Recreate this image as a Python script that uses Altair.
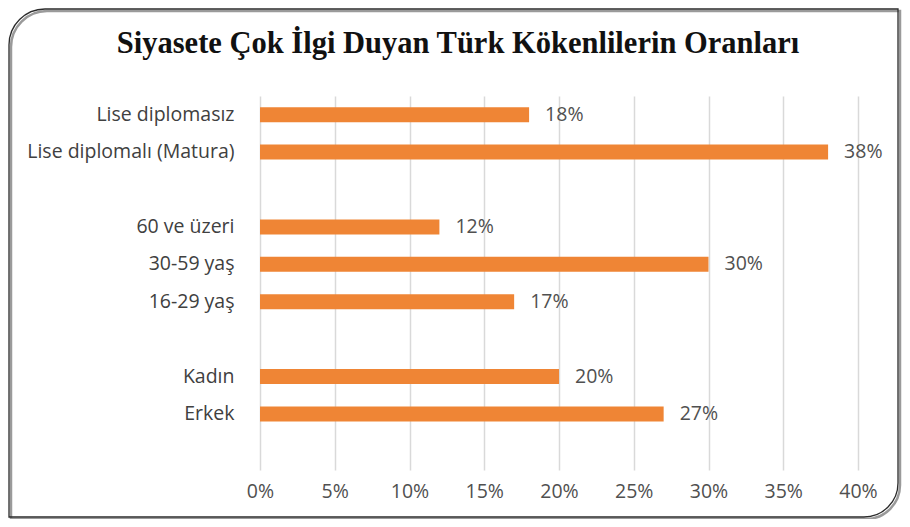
import altair as alt
import pandas as pd

categories = ["Lise diplomasız", "Lise diplomalı (Matura)", "60 ve üzeri",
              "30-59 yaş", "16-29 yaş", "Kadın", "Erkek"]
values = [18, 38, 12, 30, 17, 20, 27]
y_order = ["Lise diplomasız", "Lise diplomalı (Matura)", " ",
           "60 ve üzeri", "30-59 yaş", "16-29 yaş", "  ",
           "Kadın", "Erkek", "   "]
x_ticks = [0, 5, 10, 15, 20, 25, 30, 35, 40]
title_text = "Siyasete Çok İlgi Duyan Türk Kökenlilerin Oranları"

df = pd.DataFrame({"cat": categories, "val": values,
                   "lbl": [f"{v}%" for v in values]})

W, H = 598, 374
ORANGE = "#EF8535"
FONT = "Open Sans"
FS = 19.5

frame_shadow = alt.Chart(alt.Data(values=[{}])).mark_rect(
    fill="transparent", stroke="#9a9a9a", strokeWidth=2.5,
    cornerRadiusTopLeft=36, cornerRadiusBottomRight=34
).encode(x=alt.value(-249), x2=alt.value(640), y=alt.value(-85), y2=alt.value(423))

frame = alt.Chart(alt.Data(values=[{}])).mark_rect(
    fill="transparent", stroke="#2b2b2b", strokeWidth=1.3,
    cornerRadiusTopLeft=36, cornerRadiusBottomRight=34
).encode(x=alt.value(-251), x2=alt.value(638), y=alt.value(-87), y2=alt.value(421))

title = alt.Chart(alt.Data(values=[{"t": title_text}])).mark_text(
    font="Liberation Serif", fontSize=30.5, fontWeight="bold", color="#111111",
    align="center", baseline="middle"
).encode(x=alt.value(198), y=alt.value(-52), text="t:N")

base = alt.Chart(df)

y_enc = alt.Y("cat:N", sort=y_order,
              scale=alt.Scale(domain=y_order, paddingInner=0.6, paddingOuter=0.3),
              axis=alt.Axis(title=None, ticks=False, domain=False, labelPadding=26,
                            labelFont=FONT, labelFontSize=FS, labelColor="#404040",
                            labelLimit=300))

bars = base.mark_bar(color=ORANGE).encode(
    x=alt.X("val:Q", scale=alt.Scale(domain=[0, 40], nice=False),
            axis=alt.Axis(values=x_ticks, labelExpr="datum.value + '%'", title=None,
                          ticks=False, domain=False, grid=True, gridColor="#d9d9d9",
                          gridWidth=1.5, labelPadding=12, labelFont=FONT,
                          labelFlush=False,
                          labelFontSize=FS, labelColor="#505050")),
    y=y_enc,
)

labels = base.mark_text(align="left", baseline="middle", dx=16, font=FONT,
                        fontSize=FS, color="#505050").encode(
    x="val:Q", y=alt.Y("cat:N", sort=y_order), text="lbl:N")

chart = alt.layer(frame_shadow, frame, title, bars, labels).properties(
    width=W, height=H,
    padding={"left": 252, "top": 88, "right": 44, "bottom": 49},
    autosize=alt.AutoSizeParams(type="none"),
).configure_view(stroke=None)

chart.save("out.html", embed_options={"renderer": "svg", "actions": False})
